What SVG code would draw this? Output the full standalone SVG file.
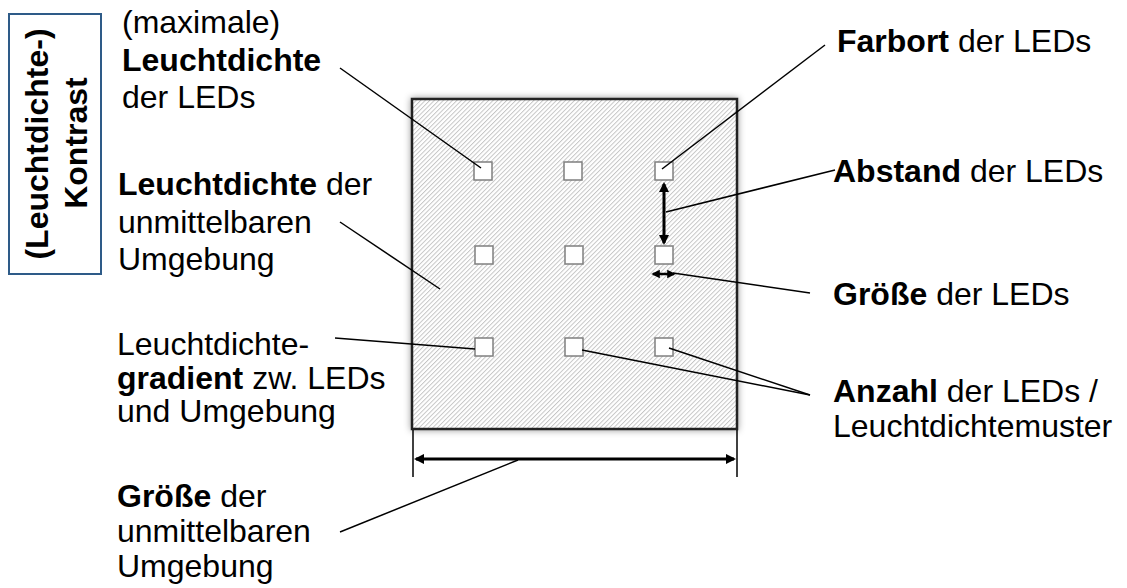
<svg xmlns="http://www.w3.org/2000/svg" width="1127" height="588" viewBox="0 0 1127 588">
<defs>
<style>
.t{font-family:Arial,"Liberation Sans",Helvetica,sans-serif;font-size:32px;fill:#000}
.b{font-weight:bold}
.ln{stroke:#000;stroke-width:1.5;fill:none}
.ext{stroke:#000;stroke-width:1.5;fill:none}
.arr{stroke:#000;stroke-width:3;fill:none;marker-start:url(#ah);marker-end:url(#ah)}
.led{fill:#fff;stroke:#7f7f7f;stroke-width:1.5}
</style>
<pattern id="hatch" patternUnits="userSpaceOnUse" width="3.2" height="3.2" patternTransform="rotate(45)">
<rect width="3.2" height="3.2" fill="#fff"/>
<line x1="0.5" y1="0" x2="0.5" y2="3.2" stroke="#c0c0c0" stroke-width="0.9"/>
</pattern>
<marker id="ah" viewBox="0 0 10 10" refX="8" refY="5" markerWidth="3.4" markerHeight="3.4" orient="auto-start-reverse" markerUnits="strokeWidth">
<path d="M0,0 L10,5 L0,10 z" fill="#000"/>
</marker>
<filter id="sh" x="-10%" y="-10%" width="120%" height="120%">
<feGaussianBlur in="SourceAlpha" stdDeviation="3.5"/>
<feOffset dx="0" dy="0" result="b"/>
<feFlood flood-color="#000" flood-opacity="0.4"/>
<feComposite in2="b" operator="in"/>
<feMerge><feMergeNode/><feMergeNode in="SourceGraphic"/></feMerge>
</filter>
</defs>

<g id="contrast">
<rect x="9" y="14" width="92" height="260" fill="#fff" stroke="#2e5b88" stroke-width="2"/>
<text class="t b" transform="translate(48,144) rotate(-90)" text-anchor="middle">(Leuchtdichte-)</text>
<text class="t b" transform="translate(87,143) rotate(-90)" text-anchor="middle">Kontrast</text>
</g>

<g id="surface">
<rect x="412" y="99" width="325" height="330" fill="url(#hatch)" stroke="#222" stroke-width="2.5" filter="url(#sh)"/>
</g>

<g id="leds">
<rect class="led" x="474" y="162" width="18" height="18"/>
<rect class="led" x="564" y="162" width="18" height="18"/>
<rect class="led" x="655" y="162" width="18" height="18"/>
<rect class="led" x="475" y="246" width="18" height="18"/>
<rect class="led" x="565" y="246" width="18" height="18"/>
<rect class="led" x="655" y="246" width="18" height="18"/>
<rect class="led" x="475" y="338" width="18" height="18"/>
<rect class="led" x="565" y="338" width="18" height="18"/>
<rect class="led" x="655" y="338" width="18" height="18"/>
</g>

<g id="connectors">
<line class="ext" x1="413" y1="430" x2="413" y2="477"/>
<line class="ext" x1="737" y1="430" x2="737" y2="477"/>
<line class="arr" x1="416" y1="459" x2="734" y2="459"/>
<line class="arr" x1="664" y1="184" x2="664" y2="243"/>
<line class="arr" style="stroke-width:2.5" x1="653" y1="274" x2="674" y2="274"/>
<line class="ln" x1="340" y1="68" x2="481" y2="168"/>
<line class="ln" x1="825" y1="45" x2="662" y2="169"/>
<line class="ln" x1="835" y1="170" x2="666" y2="212"/>
<line class="ln" x1="810" y1="293" x2="673" y2="273"/>
<line class="ln" x1="340" y1="222" x2="440" y2="289"/>
<line class="ln" x1="335" y1="338" x2="475" y2="349"/>
<line class="ln" x1="810" y1="395" x2="582" y2="350"/>
<line class="ln" x1="810" y1="395" x2="669" y2="348"/>
<line class="ln" x1="340" y1="532" x2="518" y2="460"/>
</g>

<g id="label-max">
<text class="t" x="122" y="33">(maximale)</text>
<text class="t b" x="122" y="71">Leuchtdichte</text>
<text class="t" x="122" y="108">der LEDs</text>
</g>
<g id="label-umgebung">
<text class="t" x="118" y="195"><tspan class="b">Leuchtdichte</tspan> der</text>
<text class="t" x="118" y="233">unmittelbaren</text>
<text class="t" x="118" y="270">Umgebung</text>
</g>
<g id="label-gradient">
<text class="t" x="117" y="355">Leuchtdichte-</text>
<text class="t" x="117" y="389"><tspan class="b">gradient</tspan> zw. LEDs</text>
<text class="t" x="117" y="422">und Umgebung</text>
</g>
<g id="label-groesse-umgebung">
<text class="t" x="117" y="507"><tspan class="b">Größe</tspan> der</text>
<text class="t" x="117" y="542">unmittelbaren</text>
<text class="t" x="117" y="577">Umgebung</text>
</g>
<g id="label-farbort">
<text class="t" x="837" y="52"><tspan class="b">Farbort</tspan> der LEDs</text>
</g>
<g id="label-abstand">
<text class="t" x="833" y="182"><tspan class="b">Abstand</tspan> der LEDs</text>
</g>
<g id="label-groesse-leds">
<text class="t" x="833" y="305"><tspan class="b">Größe</tspan> der LEDs</text>
</g>
<g id="label-anzahl">
<text class="t" x="833" y="402"><tspan class="b">Anzahl</tspan> der LEDs /</text>
<text class="t" x="833" y="437">Leuchtdichtemuster</text>
</g>
</svg>
